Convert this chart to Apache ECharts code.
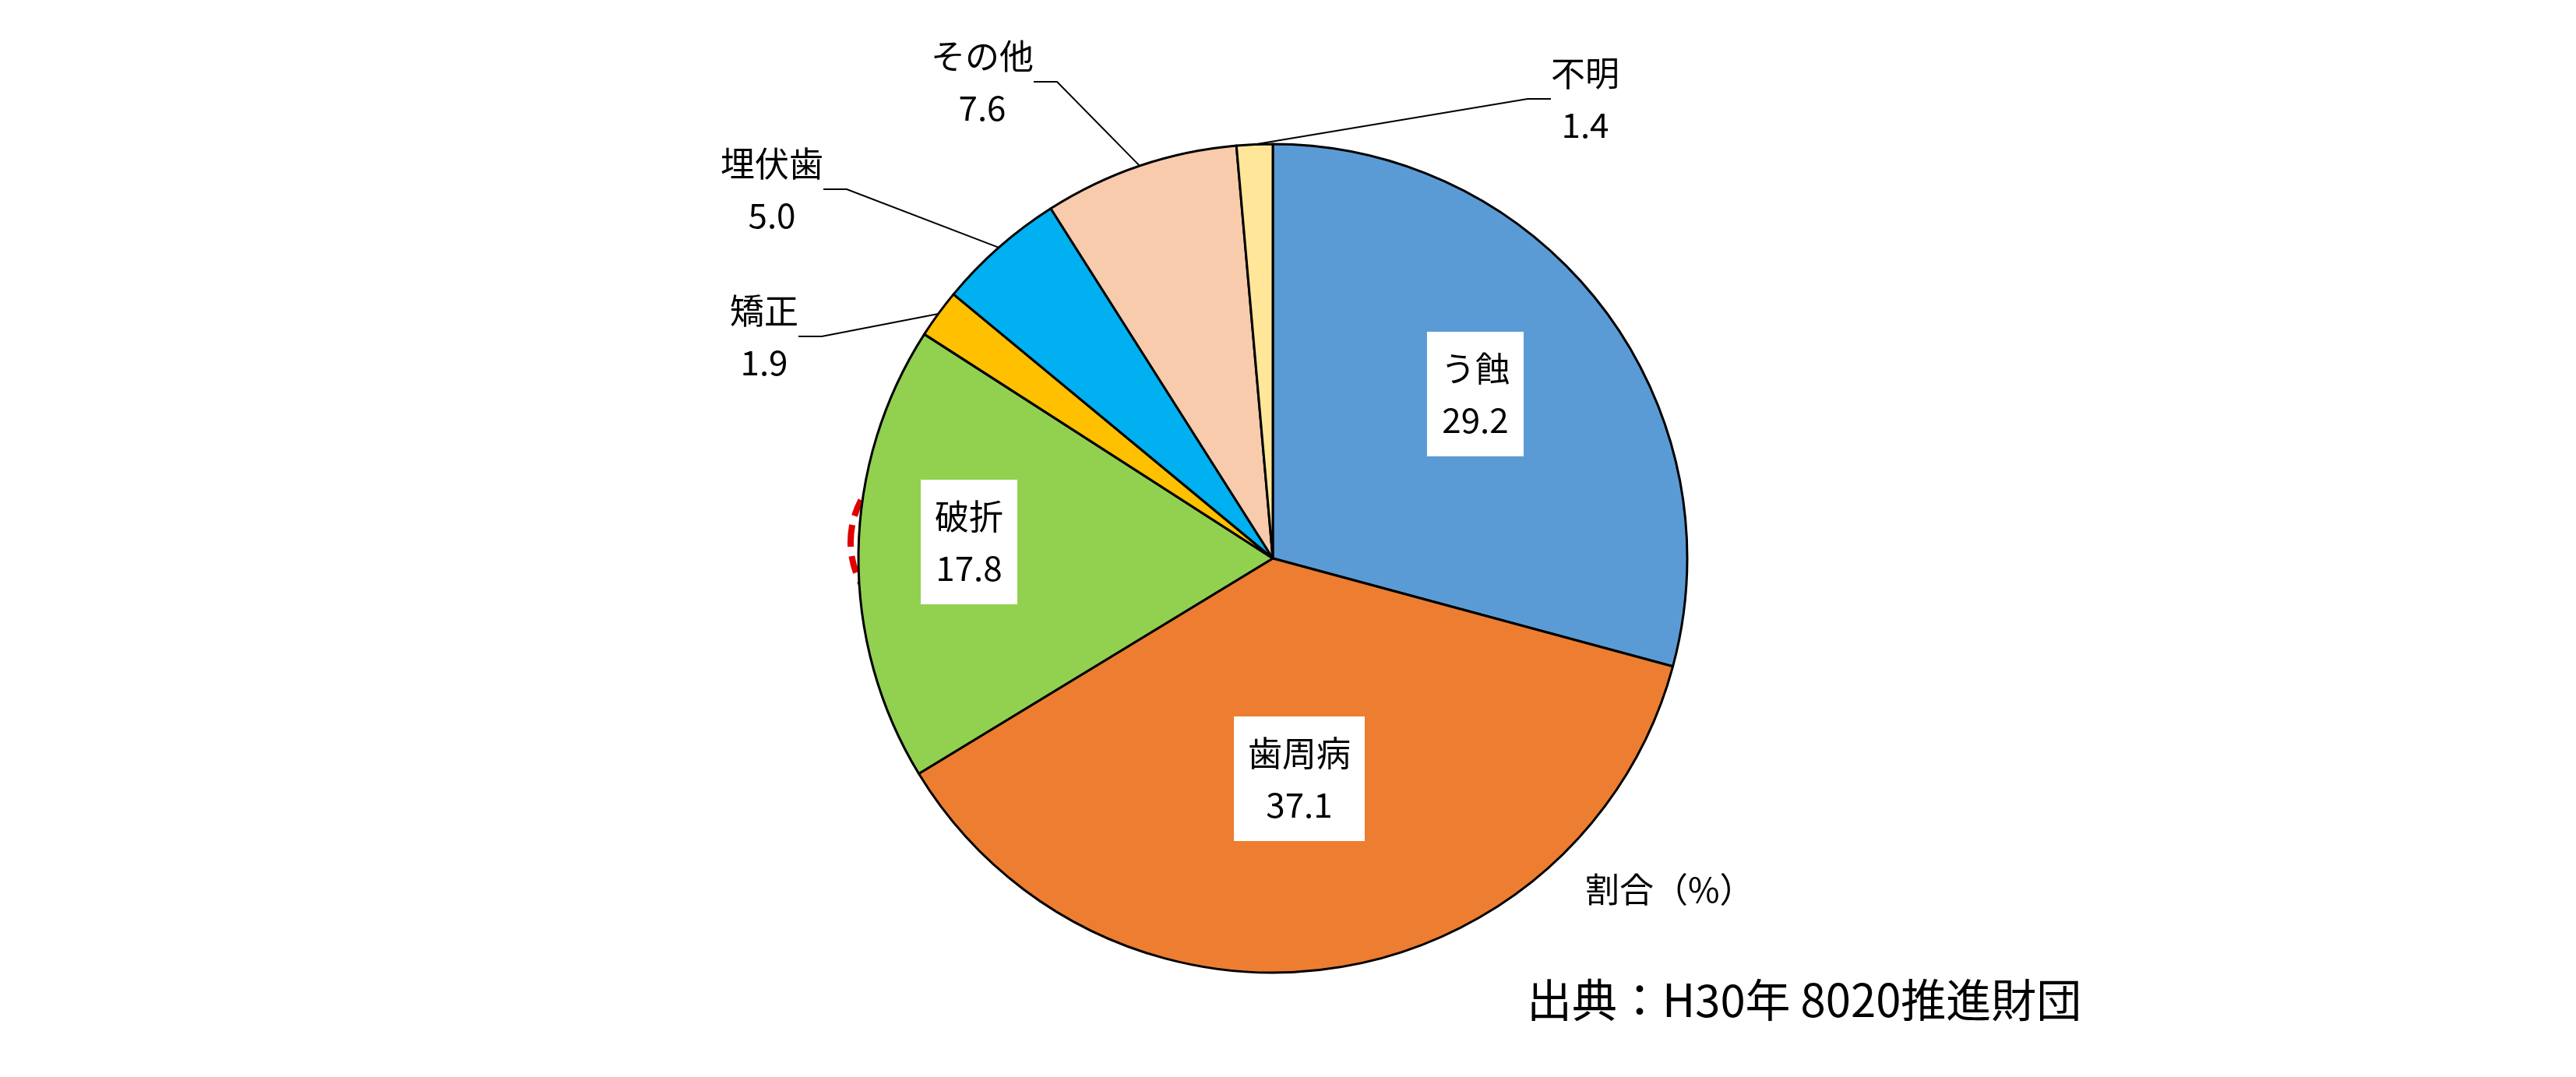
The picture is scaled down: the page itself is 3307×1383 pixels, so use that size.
<!DOCTYPE html>
<html><head><meta charset="utf-8">
<script src="https://cdn.jsdelivr.net/npm/echarts@6/dist/echarts.min.js"></script>
<style>html,body{margin:0;background:#fff}#main{width:3307px;height:1383px}</style>
</head><body><div id="main"></div>
<script>
var categories = ['う蝕', '歯周病', '破折', '矯正', '埋伏歯', 'その他', '不明'];
var values = [29.2, 37.1, 17.8, 1.9, 5.0, 7.6, 1.4];
var colors = ['#5B9BD5', '#ED7D31', '#92D050', '#FFC000', '#00B0F0', '#F8CBAD', '#FFE699'];
// label anchor points (pixels)
var labelPos = [[1894, 506], [1668, 1000], [1244, 696], [981, 432], [991, 243], [1261, 105], [2035, 127]];
var boxed = [true, true, true, false, false, false, false];

var font = '"Noto Sans CJK JP", sans-serif';
var myChart = echarts.init(document.getElementById('main'));
var option = {
  animation: false,
  series: [{
    type: 'pie',
    center: [1634, 717],
    radius: 532,
    startAngle: 90,
    clockwise: true,
    data: categories.map(function (c, i) {
      return {
        name: c, value: values[i],
        itemStyle: { color: colors[i] },
        label: boxed[i] ? { backgroundColor: '#fff', padding: [14, 18] } : {},
        labelLine: { show: !boxed[i] }
      };
    }),
    itemStyle: { borderColor: '#000', borderWidth: 3 },
    label: {
      formatter: function (p) { return p.name + '\n' + p.value.toFixed(1); },
      fontFamily: font, fontSize: 44, color: '#000', lineHeight: 66, align: 'center'
    },
    labelLine: { lineStyle: { color: '#000', width: 2 }, length: 30, length2: 30 },
    labelLayout: function (p) {
      var pos = labelPos[p.dataIndex];
      return { x: pos[0], y: pos[1], align: 'center', verticalAlign: 'middle' };
    }
  }],
  graphic: [
    { type: 'ellipse', shape: { cx: 1894, cy: 506, rx: 152, ry: 137 }, style: { fill: null, stroke: '#E00000', lineWidth: 8, lineDash: [22, 12] } },
    { type: 'ellipse', shape: { cx: 1244, cy: 696, rx: 152, ry: 131 }, style: { fill: null, stroke: '#E00000', lineWidth: 8, lineDash: [22, 12] } },
    { type: 'text', left: 2035, top: 1120, style: { text: '割合（%）', font: '44px ' + font, fill: '#000' } },
    { type: 'text', left: 1960, top: 1255, style: { text: '出典：H30年 8020推進財団', font: '58px ' + font, fill: '#000' } }
  ]
};
myChart.setOption(option);
</script></body></html>
